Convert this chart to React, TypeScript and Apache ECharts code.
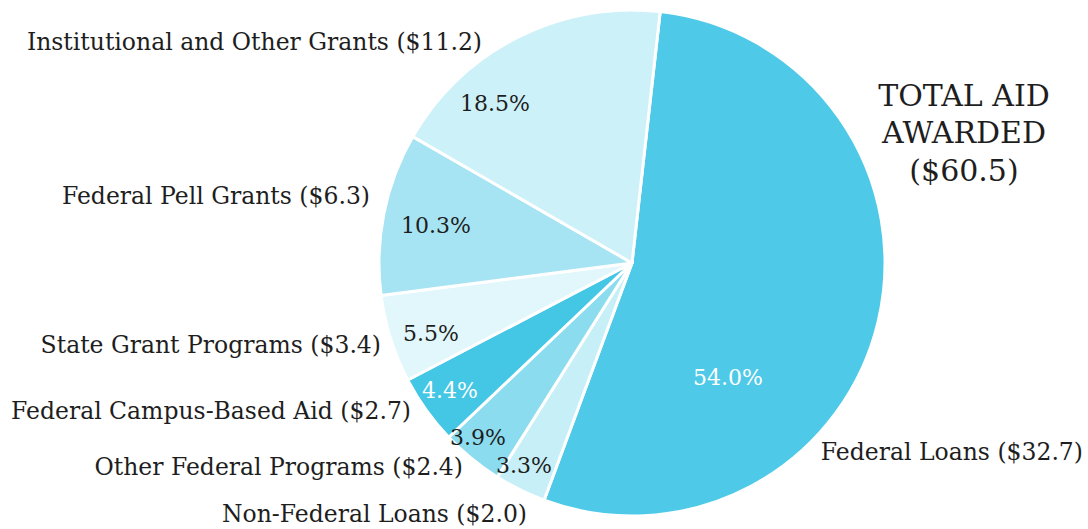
import React, { useEffect, useRef } from "react";
import * as echarts from "echarts";

const categories = [
  "Federal Loans",
  "Non-Federal Loans",
  "Other Federal Programs",
  "Federal Campus-Based Aid",
  "State Grant Programs",
  "Federal Pell Grants",
  "Institutional and Other Grants",
];
const amounts = [32.7, 2.0, 2.4, 2.7, 3.4, 6.3, 11.2];
const percents = ["54.0%", "3.3%", "3.9%", "4.4%", "5.5%", "10.3%", "18.5%"];
const totalLines = ["TOTAL AID", "AWARDED", "($60.5)"];

const sliceColors = ["#4ECAE8", "#C6EFF8", "#8CDCEF", "#44C6E5", "#E2F7FB", "#A6E4F3", "#CDF1F9"];
const pctColors = ["#ffffff", "#1e1e1e", "#1e1e1e", "#ffffff", "#1e1e1e", "#1e1e1e", "#1e1e1e"];
const pctPos = [
  [728, 377], [524, 465], [478, 437], [450, 390], [431, 333], [436, 225], [495, 103],
];
const namePos: [number, number, string][] = [
  [1083, 452, "right"], [527, 514, "right"], [463, 467, "right"], [411, 411, "right"],
  [381, 345, "right"], [370, 196, "right"], [482, 42, "right"],
];

const FONT = "'DejaVu Serif', serif";

export default function App() {
  const ref = useRef<HTMLDivElement>(null);
  useEffect(() => {
    const chart = echarts.init(ref.current!, null, { renderer: "svg" });
    const data = categories.map((c, i) => ({
      name: c,
      value: amounts[i],
      itemStyle: { color: sliceColors[i] },
    }));
    chart.setOption({
      animation: false,
      backgroundColor: "#ffffff",
      graphic: totalLines.map((t, i) => ({
        type: "text",
        x: 964,
        y: 95 + i * 37.5,
        style: {
          text: t,
          fontFamily: FONT,
          fontSize: 30,
          fill: "#1e1e1e",
          textAlign: "center",
          textVerticalAlign: "middle",
        },
      })),
      series: [
        {
          type: "pie",
          center: [632, 263],
          radius: [0, 253],
          startAngle: 83.6,
          clockwise: true,
          silent: true,
          itemStyle: { borderColor: "#ffffff", borderWidth: 3 },
          label: {
            show: true,
            position: "inside",
            formatter: (p: any) => percents[p.dataIndex],
            fontFamily: FONT,
            fontSize: 22,
            color: "#1e1e1e",
          },
          labelLine: { show: false },
          labelLayout: (p: any) => ({
            x: pctPos[p.dataIndex][0],
            y: pctPos[p.dataIndex][1],
            align: "center",
            verticalAlign: "middle",
          }),
          data: data.map((d, i) => ({
            ...d,
            label: { color: pctColors[i] },
          })),
        },
        {
          type: "pie",
          center: [632, 263],
          radius: [0, 253],
          startAngle: 83.6,
          clockwise: true,
          silent: true,
          itemStyle: { color: "rgba(0,0,0,0)", borderWidth: 0 },
          label: {
            show: true,
            position: "outside",
            overflow: "none",
            formatter: (p: any) => `${p.name} ($${amounts[p.dataIndex].toFixed(1)})`,
            fontFamily: FONT,
            fontSize: 23.5,
            color: "#1e1e1e",
          },
          labelLine: { show: false },
          labelLayout: (p: any) => ({
            x: namePos[p.dataIndex][0],
            y: namePos[p.dataIndex][1],
            align: namePos[p.dataIndex][2],
            verticalAlign: "middle",
            width: 500,
          }),
          data: categories.map((c, i) => ({ name: c, value: amounts[i] })),
        },
      ],
    });
    return () => chart.dispose();
  }, []);
  return <div ref={ref} style={{ width: 1088, height: 529, position: "absolute", left: 0, top: 0 }} />;
}
